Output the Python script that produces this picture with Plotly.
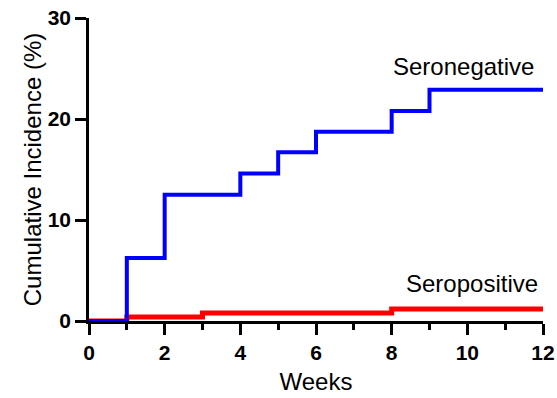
import plotly.graph_objects as go

weeks_neg = [0, 1, 2, 4, 5, 6, 8, 9, 12]
incidence_neg = [0, 6.25, 12.5, 14.6, 16.7, 18.75, 20.8, 22.9, 22.9]
weeks_pos = [0, 1, 3, 8, 12]
incidence_pos = [0, 0.4, 0.8, 1.2, 1.2]

x_ticks = [0, 2, 4, 6, 8, 10, 12]
y_ticks = [0, 10, 20, 30]

FONT = "Liberation Sans, Arial, sans-serif"

fig = go.Figure()
fig.add_trace(go.Scatter(x=weeks_pos, y=incidence_pos, mode="lines",
                         line=dict(shape="hv", color="#ff0000", width=5),
                         cliponaxis=False, showlegend=False))
fig.add_trace(go.Scatter(x=weeks_neg, y=incidence_neg, mode="lines",
                         line=dict(shape="hv", color="#0000ff", width=4),
                         cliponaxis=False, showlegend=False))

fig.add_annotation(x=9.89, y=25.2, text="Seronegative", showarrow=False,
                   font=dict(family=FONT, size=24, color="black"))
fig.add_annotation(x=10.12, y=3.75, text="Seropositive", showarrow=False,
                   font=dict(family=FONT, size=24, color="black"))

fig.update_layout(
    width=557, height=398,
    margin=dict(l=89, r=14, t=18, b=77),
    paper_bgcolor="white", plot_bgcolor="white",
    font=dict(family=FONT, color="black"),
    xaxis=dict(range=[0, 12], tickvals=x_ticks, ticktext=[str(v) for v in x_ticks],
               showgrid=False, zeroline=False, showline=True, linecolor="black",
               linewidth=2.5, ticks="outside", ticklen=11, tickwidth=2.5, tickcolor="black",
               minor=dict(ticks="outside", ticklen=6, tickwidth=2.5, tickcolor="black", dtick=1, tick0=0),
               tickfont=dict(family=FONT, size=21, color="black", weight="bold"),
               title=dict(text="Weeks", font=dict(family=FONT, size=24), standoff=11),
               layer="below traces", automargin=False),
    yaxis=dict(range=[0, 30], tickvals=y_ticks,
               showgrid=False, zeroline=False, showline=True, linecolor="black",
               linewidth=2.5, ticks="outside", ticklen=11, tickwidth=2.5, tickcolor="black",
               tickfont=dict(family=FONT, size=21, color="black", weight="bold"),
               title=dict(text="Cumulative Incidence (%)", font=dict(family=FONT, size=24), standoff=0),
               layer="below traces", automargin=False),
)

fig.write_html("out.html", config={"displayModeBar": False},
               post_script="document.body.style.margin='0';")
